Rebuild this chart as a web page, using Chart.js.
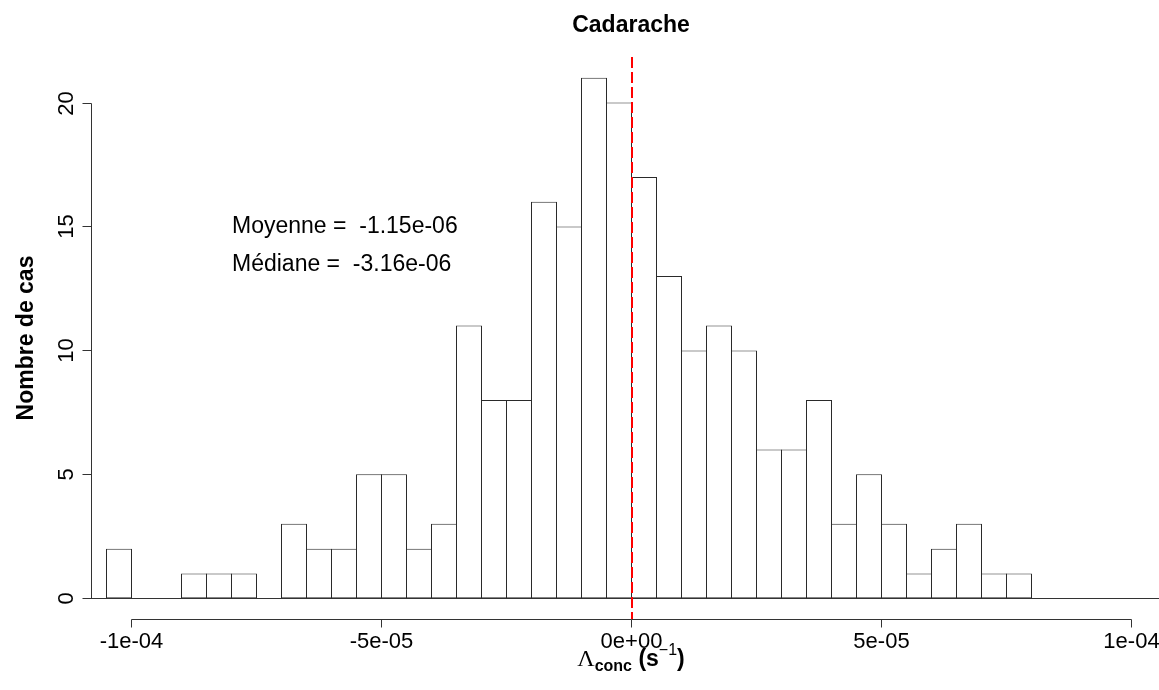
<!DOCTYPE html>
<html>
<head>
<meta charset="utf-8">
<script src="https://cdn.jsdelivr.net/npm/chart.js@4/dist/chart.umd.min.js"></script>
<style>
    body { margin: 0; background: #fff; }
    #wrap { width: 1159px; height: 690px; }
</style>
</head>
<body>
<div id="wrap"><canvas id="histChart" width="1159" height="690"></canvas></div>
<script>
// bin centres (bin width 5e-06) and counts
const binCenters = [
    -1.025e-4, -9.75e-5, -9.25e-5, -8.75e-5, -8.25e-5, -7.75e-5, -7.25e-5,
    -6.75e-5, -6.25e-5, -5.75e-5, -5.25e-5, -4.75e-5, -4.25e-5, -3.75e-5,
    -3.25e-5, -2.75e-5, -2.25e-5, -1.75e-5, -1.25e-5, -7.5e-6, -2.5e-6,
    2.5e-6, 7.5e-6, 1.25e-5, 1.75e-5, 2.25e-5, 2.75e-5, 3.25e-5,
    3.75e-5, 4.25e-5, 4.75e-5, 5.25e-5, 5.75e-5, 6.25e-5, 6.75e-5,
    7.25e-5, 7.75e-5
];
const counts = [
    2, 0, 0, 1, 1, 1, 0,
    3, 2, 2, 5, 5, 2, 3,
    11, 8, 8, 16, 15, 21, 20,
    17, 13, 10, 11, 10, 6, 6,
    8, 3, 5, 3, 1, 2, 3,
    1, 1
];
const xTicks = [-1e-4, -5e-5, 0, 5e-5, 1e-4];
const xTickLabels = ["-1e-04", "-5e-05", "0e+00", "5e-05", "1e-04"];
const yTicks = [0, 5, 10, 15, 20];
const statLabels = ["Moyenne =  -1.15e-06", "Médiane =  -3.16e-06"];
const statX = -8e-5;
const statY = [15, 13.5];
const refLine = 0;

const FONT = '"Liberation Sans", Arial, sans-serif';

// R-style axes, titles and annotations drawn from the chart scales
const rStylePlugin = {
    id: "rStyle",
    afterDatasetsDraw(chart) {
        const ctx = chart.ctx;
        const xs = chart.scales.x;
        const ys = chart.scales.y;
        const area = chart.chartArea;
        const px = v => Math.floor(xs.getPixelForValue(v));
        const py = v => Math.round(ys.getPixelForValue(v));

        ctx.save();
        ctx.strokeStyle = "#333";
        ctx.lineWidth = 1;

        // horizontal line at 0
        ctx.beginPath();
        ctx.moveTo(area.left, py(0) + 0.5);
        ctx.lineTo(area.right, py(0) + 0.5);
        ctx.stroke();

        // x axis
        const xAxisY = Math.round(area.bottom) + 0.5;
        ctx.beginPath();
        ctx.moveTo(px(xTicks[0]) + 0.5, xAxisY);
        ctx.lineTo(px(xTicks[xTicks.length - 1]) + 0.5, xAxisY);
        xTicks.forEach(t => {
            ctx.moveTo(px(t) + 0.5, xAxisY);
            ctx.lineTo(px(t) + 0.5, xAxisY + 8);
        });
        ctx.stroke();

        ctx.fillStyle = "#000";
        ctx.font = "22px " + FONT;
        ctx.textAlign = "center";
        ctx.textBaseline = "alphabetic";
        xTicks.forEach((t, i) => ctx.fillText(xTickLabels[i], px(t) + 0.5, 648));

        // y axis
        const yAxisX = Math.round(area.left) + 0.5;
        ctx.beginPath();
        ctx.moveTo(yAxisX, py(yTicks[0]) + 0.5);
        ctx.lineTo(yAxisX, py(yTicks[yTicks.length - 1]) + 0.5);
        yTicks.forEach(t => {
            ctx.moveTo(yAxisX, py(t) + 0.5);
            ctx.lineTo(yAxisX - 9, py(t) + 0.5);
        });
        ctx.stroke();

        yTicks.forEach(t => {
            ctx.save();
            ctx.translate(73, py(t) + 0.5);
            ctx.rotate(-Math.PI / 2);
            ctx.fillText(String(t), 0, 0);
            ctx.restore();
        });

        // y title
        ctx.save();
        ctx.font = "bold 23px " + FONT;
        ctx.translate(33, (area.top + area.bottom) / 2);
        ctx.rotate(-Math.PI / 2);
        ctx.fillText("Nombre de cas", 0, 0);
        ctx.restore();

        // main title
        ctx.font = "bold 23px " + FONT;
        ctx.fillText("Cadarache", px(refLine), 32);

        // mean / median text
        ctx.font = "23px " + FONT;
        ctx.textAlign = "left";
        statLabels.forEach((s, i) => ctx.fillText(s, px(statX) + 1, py(statY[i]) + 7));

        // x title: Lambda_conc (s^-1)
        const parts = [
            { t: "\u039B", f: "24px \"Liberation Serif\", serif", dy: 0 },
            { t: "conc", f: "bold 16px " + FONT, dy: 5 },
            { t: " (s", f: "bold 23px " + FONT, dy: 0 },
            { t: "\u22121", f: "16px " + FONT, dy: -11 },
            { t: ")", f: "bold 23px " + FONT, dy: 0 }
        ];
        let total = 0;
        parts.forEach(p => { ctx.font = p.f; p.w = ctx.measureText(p.t).width; total += p.w; });
        let cx = px(0) - total / 2;
        parts.forEach(p => {
            ctx.font = p.f;
            ctx.fillText(p.t, cx, 666 + p.dy);
            cx += p.w;
        });

        // red dashed reference line
        ctx.strokeStyle = "#ff0000";
        ctx.lineWidth = 2;
        ctx.setLineDash([11, 4]);
        ctx.beginPath();
        ctx.moveTo(px(refLine) + 1, area.top);
        ctx.lineTo(px(refLine) + 1, area.bottom);
        ctx.stroke();

        ctx.restore();
    }
};

new Chart(document.getElementById("histChart"), {
    type: "bar",
    data: {
        datasets: [{
            data: binCenters.map((x, i) => ({ x: x, y: counts[i] })),
            backgroundColor: "#ffffff",
            borderColor: "#2a2a2a",
            borderWidth: 1,
            borderSkipped: false,
            barPercentage: 1.04,
            categoryPercentage: 1
        }]
    },
    options: {
        responsive: false,
        animation: false,
        layout: { padding: { left: 91, right: 0, top: 57, bottom: 71 } },
        scales: {
            x: { type: "linear", min: -1.081e-4, max: 1.055e-4, offset: false, display: false },
            y: { min: -0.84, max: 21.84, display: false }
        },
        plugins: {
            legend: { display: false },
            tooltip: { enabled: false },
            title: { display: false }
        }
    },
    plugins: [rStylePlugin]
});
</script>
</body>
</html>
